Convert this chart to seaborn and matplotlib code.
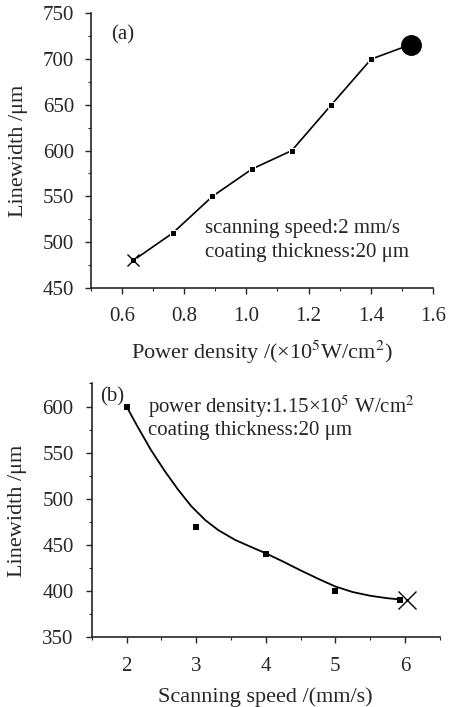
import pandas as pd
import seaborn as sns
import matplotlib.pyplot as plt
import numpy as np
from matplotlib.ticker import MultipleLocator

# panel (a): linewidth vs power density
power = [0.637, 0.764, 0.891, 1.019, 1.146, 1.273, 1.401, 1.528]
width_a = [480, 510, 550, 580, 600, 650, 700, 716]

# panel (b): linewidth vs scanning speed
speed = [2, 3, 4, 5, 5.93]
width_b = [600, 470, 440, 400, 390]
speed_x = [6.03]
width_x = [390]
# fitted curve
curve_x = [2.0, 2.16, 2.35, 2.55, 2.74, 2.93, 3.13, 3.32, 3.56, 3.80, 4.0, 4.25, 4.5, 4.75, 5.0, 5.25, 5.5, 5.75, 5.93]
curve_y = [600, 578, 553, 530, 510, 492, 477, 466, 455.5, 447.5, 441, 432, 422.5, 413.5, 405, 399, 395, 392.3, 391]

sns.set_style("ticks")
plt.rcParams['font.family'] = ['Liberation Serif', 'DejaVu Serif']
plt.rcParams['mathtext.fontset'] = 'stix'
plt.rcParams['xtick.direction'] = 'out'
plt.rcParams['ytick.direction'] = 'out'

fig = plt.figure(figsize=(4.52, 7.07), dpi=100)
ax1 = fig.add_axes([0.201, 0.593, 0.757, 0.388])
ax2 = fig.add_axes([0.203, 0.0986, 0.770, 0.359])

df_a = pd.DataFrame({"power": power, "width": width_a})
sns.lineplot(data=df_a, x="power", y="width", color="black", lw=1.2, marker="s", markersize=4, ax=ax1)
# end points drawn with their own markers
ax1.plot(power[0], width_a[0], marker="x", color="black", markersize=9, mew=1.0)
ax1.plot(power[-1], width_a[-1], marker="o", color="black", markersize=14)

df_b = pd.DataFrame({"speed": speed, "width": width_b})
df_c = pd.DataFrame({"speed": curve_x, "width": curve_y})
sns.lineplot(data=df_c, x="speed", y="width", color="black", lw=1.3, ax=ax2)
sns.scatterplot(data=df_b, x="speed", y="width", color="black", marker="s", s=22, linewidth=0, ax=ax2)
ax2.plot(speed_x, width_x, marker="x", color="black", markersize=13, mew=1.0, ls="none")

ax1.set_xlim(0.5, 1.6)
ax1.set_ylim(450, 750)
ax1.xaxis.set_minor_locator(MultipleLocator(0.1))
ax1.yaxis.set_minor_locator(MultipleLocator(25))
ax1.set_xticks(np.arange(0.6, 1.61, 0.2))
ax1.set_xticklabels(["0.6", "0.8", "1.0", "1.2", "1.4", "1.6"])
ax1.set_yticks([450, 500, 550, 600, 650, 700, 750])

ax2.set_xlim(1.5, 6.5)
ax2.set_ylim(350, 625)
ax2.xaxis.set_minor_locator(MultipleLocator(0.5))
ax2.yaxis.set_minor_locator(MultipleLocator(25))
ax2.set_xticks([2, 3, 4, 5, 6])
ax2.set_yticks([350, 400, 450, 500, 550, 600])

for ax in (ax1, ax2):
    sns.despine(ax=ax)
    for s in ("left", "bottom"):
        ax.spines[s].set_linewidth(1.2)
    ax.tick_params(which="major", length=4, width=1.0, labelsize=15)
    ax.tick_params(which="minor", length=2, width=0.8)

ax1.tick_params(axis="x", which="major", pad=10)
ax1.tick_params(axis="y", which="major", pad=8)
ax2.tick_params(axis="x", which="major", pad=10)
ax2.tick_params(axis="y", which="major", pad=9)

ax1.set_ylabel("Linewidth /μm", fontsize=16, labelpad=11)
ax1.set_xlabel("Power density /(×10$^{5}$W/cm$^{2}$)", fontsize=16, labelpad=9)
ax2.set_ylabel("Linewidth /μm", fontsize=16, labelpad=11)
ax2.set_xlabel("Scanning speed /(mm/s)", fontsize=16, labelpad=8)

ax1.text(0.564, 727, "(a)", fontsize=15, va="center")
ax1.text(0.868, 510, "scanning speed:2 mm/s", fontsize=15, va="baseline")
ax1.text(0.868, 484, "coating thickness:20 μm", fontsize=15, va="baseline")

ax2.text(1.62, 610, "(b)", fontsize=15, va="center")
ax2.text(2.31, 593, "power density:1.15×10$^{5}$ W/cm$^{2}$", fontsize=15, va="baseline")
ax2.text(2.31, 569, "coating thickness:20 μm", fontsize=15, va="baseline")

fig.savefig("out.png", dpi=100)
